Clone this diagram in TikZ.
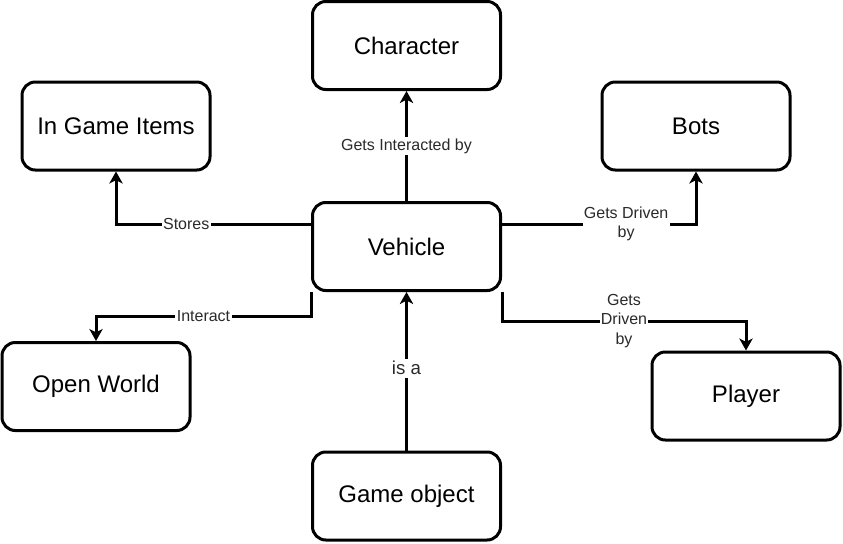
\documentclass[tikz,border=0pt]{standalone}
\usepackage{fontspec}
\setmainfont{Liberation Sans}
\usetikzlibrary{arrows.meta}
\definecolor{lblc}{HTML}{2A2A2A}
\begin{document}
\begin{tikzpicture}[x=0.75pt,y=-0.75pt,
  box/.style={draw, line width=2.25pt, rounded corners=10pt, minimum width=141pt, minimum height=66pt, inner sep=0pt, font=\fontsize{18}{22}\selectfont},
  conn/.style={line width=2.25pt, -{Stealth[length=9pt,width=10pt,inset=2.5pt]}},
  lbl/.style={fill=white, inner sep=1pt, text=lblc, font=\fontsize{12}{14.5}\selectfont, align=center}]
\useasboundingbox (0,0) rectangle (843,543);

\node[box] (char)   at (406.5,45.5)  {Character};
\node[box] (items)  at (116,126)     {In Game Items};
\node[box] (bots)   at (696,126)     {Bots};
\node[box] (veh)    at (406.5,246.5) {Vehicle};
\node[box] (world)  at (96,386.5)    {Open World};
\node[box] (player) at (746,396)     {Player};
\node[box] (gobj)   at (406.5,496)   {Game object};

\coordinate (yS) at (0,224);
\coordinate (yP) at (0,321);
\coordinate (yW) at (0,316.5);

\draw[conn] (veh) -- node[lbl]{Gets Interacted by} (char);
\draw[conn] (veh.west |- yS) -| node[lbl, pos=0.32]{Stores} (items.south);
\draw[conn] (veh.east |- yS) -| node[lbl, pos=0.32]{Gets Driven\\by} (bots.south);
\draw[conn] (veh.south east) -- (veh.south east |- yP) -| node[lbl, pos=0.25]{Gets\\Driven\\by} (player.north);
\draw[conn] (veh.south west) -- (veh.south west |- yW) -| node[lbl, pos=0.25]{Interact} (world.north);
\draw[conn] (gobj) -- node[lbl, pos=0.52, font=\fontsize{14}{16}\selectfont, inner sep=2pt]{is a} (veh);
\end{tikzpicture}
\end{document}
